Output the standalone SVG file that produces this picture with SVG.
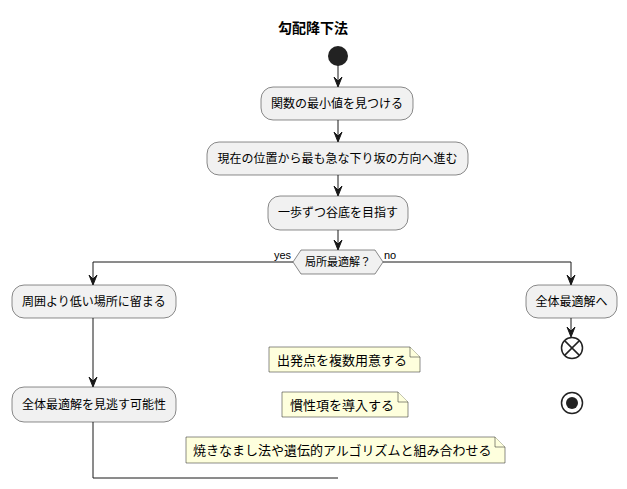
<svg xmlns="http://www.w3.org/2000/svg" width="627" height="489" viewBox="0 0 627 489">
<defs>
<style>
text{font-family:"Noto Sans CJK JP","Liberation Sans",sans-serif;fill:#000}
.act{fill:#F1F1F1;stroke:#181818;stroke-width:0.5}
.t{font-size:12px}
.nt{font-size:13px}
.s{font-size:11px}
.note{fill:#FEFFDD;stroke:#181818;stroke-width:0.5}
.ln{fill:none;stroke:#181818;stroke-width:1}
</style>
</defs>
<rect width="627" height="489" fill="#FFFFFF"/>
<text x="313" y="33" text-anchor="middle" style="font-size:14px;font-weight:bold">勾配降下法</text>

<g id="connectors">
<line class="ln" x1="338" y1="65" x2="338" y2="86"/>
<line class="ln" x1="338" y1="120" x2="338" y2="141"/>
<line class="ln" x1="338" y1="175" x2="338" y2="195"/>
<line class="ln" x1="338" y1="230" x2="338" y2="249"/>
<polyline class="ln" points="293,262 93,262 93,284"/>
<polyline class="ln" points="383,262 571,262 571,284"/>
<line class="ln" x1="93" y1="318" x2="93" y2="386"/>
<polyline class="ln" points="93,422 93,478 338,478"/>
<line class="ln" x1="571" y1="318" x2="571" y2="336"/>
<g fill="#181818" stroke="#181818" stroke-width="1">
<polygon points="334,77 338,87 342,77 338,81"/>
<polygon points="334,132 338,142 342,132 338,136"/>
<polygon points="334,186 338,196 342,186 338,190"/>
<polygon points="334,240 338,250 342,240 338,244"/>
<polygon points="89,275 93,285 97,275 93,279"/>
<polygon points="567,275 571,285 575,275 571,279"/>
<polygon points="89,377 93,387 97,377 93,381"/>
<polygon points="567,327 571,337 575,327 571,331"/>
</g>
<text class="s" x="291" y="259" text-anchor="end" style="font-family:'Liberation Sans',sans-serif">yes</text>
<text class="s" x="384" y="259" style="font-family:'Liberation Sans',sans-serif">no</text>
</g>

<g id="start"><circle cx="338" cy="56" r="10" fill="#222222"/></g>

<g id="n1"><rect class="act" x="261" y="87" width="152" height="33" rx="12" ry="12"/>
<text class="t" x="337" y="108" text-anchor="middle">関数の最小値を見つける</text></g>

<g id="n2"><rect class="act" x="207" y="142" width="261" height="33" rx="12" ry="12"/>
<text class="t" x="337.5" y="163" text-anchor="middle">現在の位置から最も急な下り坂の方向へ進む</text></g>

<g id="n3"><rect class="act" x="268" y="196" width="140" height="34" rx="12" ry="12"/>
<text class="t" x="338" y="217" text-anchor="middle">一歩ずつ谷底を目指す</text></g>

<g id="dec"><polygon class="act" points="293,262 301,250 375,250 383,262 375,274 301,274"/>
<text class="s" x="338" y="266" text-anchor="middle">局所最適解？</text></g>

<g id="n4"><rect class="act" x="12" y="285" width="164" height="33" rx="12" ry="12"/>
<text class="t" x="94" y="306" text-anchor="middle">周囲より低い場所に留まる</text></g>

<g id="n5"><rect class="act" x="12" y="387" width="164" height="35" rx="12" ry="12"/>
<text class="t" x="94" y="409" text-anchor="middle">全体最適解を見逃す可能性</text></g>

<g id="n6"><rect class="act" x="526" y="285" width="91" height="33" rx="12" ry="12"/>
<text class="t" x="571.5" y="306" text-anchor="middle">全体最適解へ</text></g>

<g id="end1"><circle cx="572" cy="348" r="10.5" fill="#FFFFFF" stroke="#222222" stroke-width="1.5"/>
<line x1="564.6" y1="340.6" x2="579.4" y2="355.4" stroke="#222222" stroke-width="1.5"/>
<line x1="579.4" y1="340.6" x2="564.6" y2="355.4" stroke="#222222" stroke-width="1.5"/></g>

<g id="end2"><circle cx="572" cy="403" r="10.5" fill="#FFFFFF" stroke="#222222" stroke-width="1.5"/>
<circle cx="572" cy="403" r="6" fill="#222222"/></g>

<g id="note1"><path class="note" d="M269,347 L410,347 L420,357 L420,372 L269,372 Z"/>
<path class="note" d="M410,347 L410,357 L420,357" fill="none"/>
<text class="nt" x="277" y="364.5">出発点を複数用意する</text></g>

<g id="note2"><path class="note" d="M282,392 L398,392 L408,402 L408,417 L282,417 Z"/>
<path class="note" d="M398,392 L398,402 L408,402" fill="none"/>
<text class="nt" x="290" y="409.5">慣性項を導入する</text></g>

<g id="note3"><path class="note" d="M186,437 L495,437 L505,447 L505,463 L186,463 Z"/>
<path class="note" d="M495,437 L495,447 L505,447" fill="none"/>
<text class="nt" x="193" y="455">焼きなまし法や遺伝的アルゴリズムと組み合わせる</text></g>
</svg>
